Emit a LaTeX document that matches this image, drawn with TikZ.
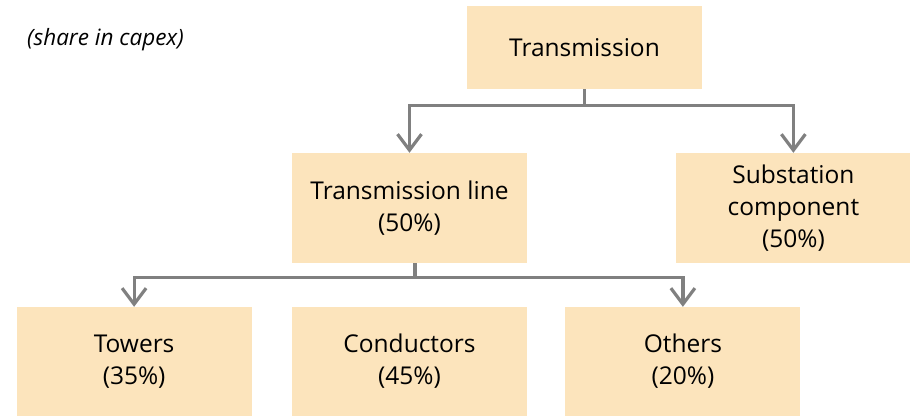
\documentclass[tikz,border=0pt]{standalone}
\usepackage{fontspec}
\setmainfont{Open Sans}
\usetikzlibrary{positioning,arrows.meta}
\definecolor{PeachBox}{RGB}{252,228,188}
\definecolor{LinkGrey}{RGB}{128,128,128}
\tikzset{
  flow/.style={-{Straight Barb[length=16pt,width=24pt]},line width=3.2pt,draw=LinkGrey},
  box/.style={fill=PeachBox,draw=none,minimum width=235pt,minimum height=110pt,
    align=center,inner sep=0pt,font=\fontsize{24.5}{32}\selectfont},
  note/.style={anchor=west,inner sep=0pt,font=\fontsize{22.5}{26}\selectfont\itshape}
}

\begin{document}
\begin{tikzpicture}[x=1pt,y=-1pt]
  \useasboundingbox (0,0) rectangle (911,416);
  \node[note] (share) at (27,40) {(share in capex)};
  \node[box,minimum height=83pt] (trans) at (584.5,47.5) {Transmission};
  \node[box] (tline) at (409.5,208) {Transmission line\\(50\%)};
  \node[box,right=149pt of tline,minimum width=234pt] (subst) {Substation\\component\\(50\%)};
  \node[box,minimum height=109pt] (cond) at (409.5,361.5) {Conductors\\(45\%)};
  \node[box,minimum height=109pt,left=40pt of cond] (towers) {Towers\\(35\%)};
  \node[box,minimum height=109pt,right=38pt of cond] (others) {Others\\(20\%)};
  \draw[flow] (trans.south) -- ++(0,16) -| (tline.north);
  \draw[flow] (trans.south) -- ++(0,16) -| (subst.north);
  \draw[flow] ([xshift=5.5pt]tline.south) -- ++(0,14) -| (towers.north);
  \draw[flow] ([xshift=5.5pt]tline.south) -- ++(0,14) -| (others.north);
\end{tikzpicture}
\end{document}
